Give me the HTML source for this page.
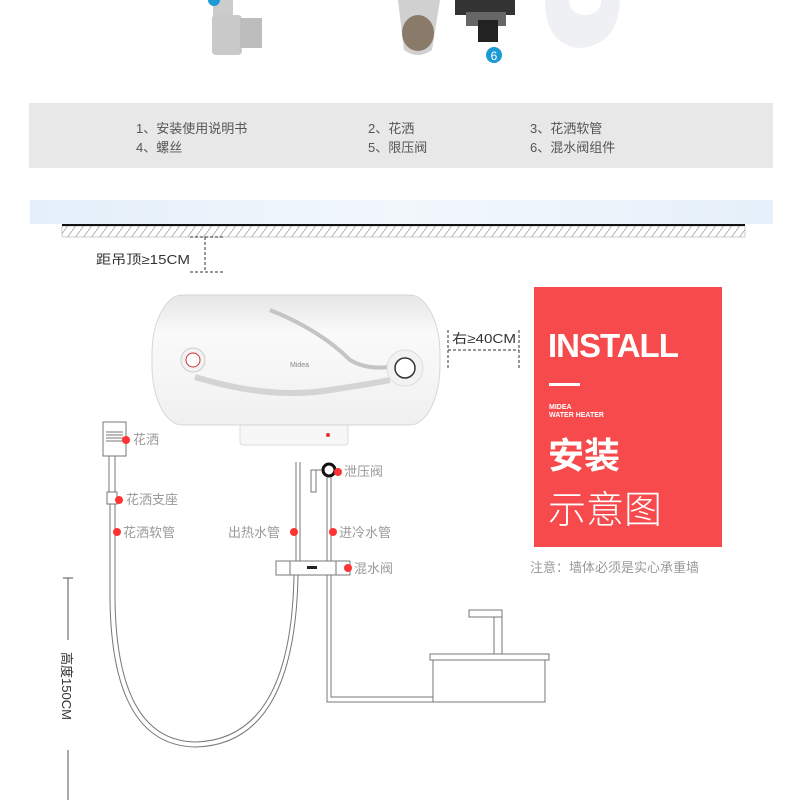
<!DOCTYPE html>
<html><head><meta charset="utf-8"><style>
body{margin:0;background:#fff;}
svg{display:block;}
text{font-family:"Liberation Sans","Noto Sans CJK SC",sans-serif;}
</style></head><body>
<svg width="800" height="800" viewBox="0 0 800 800" xmlns="http://www.w3.org/2000/svg">
<defs>
<linearGradient id="sky" x1="0" x2="1"><stop offset="0" stop-color="#e4effa"/><stop offset="0.5" stop-color="#f2f7fc"/><stop offset="1" stop-color="#e6f0fa"/></linearGradient>
<linearGradient id="tank" x1="0" y1="0" x2="0" y2="1"><stop offset="0" stop-color="#e6e6e6"/><stop offset="0.3" stop-color="#fafafa"/><stop offset="1" stop-color="#f0f0f0"/></linearGradient>
<pattern id="hatch" width="8" height="11" patternUnits="userSpaceOnUse"><path d="M0 11 L8 0" stroke="#999" stroke-width="0.7"/></pattern>
</defs>
<g>
<rect x="213" y="0" width="20" height="20" fill="#ccc"/>
<rect x="212" y="15" width="30" height="40" rx="4" fill="#c9c9c9"/>
<rect x="240" y="18" width="22" height="30" fill="#bdbdbd"/>
<circle cx="214" cy="0" r="6" fill="#1b9ad6"/>
<path d="M398 0 L440 0 L432 50 Q418 60 404 50 Z" fill="#d0d0d0"/>
<ellipse cx="418" cy="33" rx="16" ry="18" fill="#8a7a6a"/>
<rect x="455" y="0" width="60" height="15" fill="#333"/>
<rect x="466" y="12" width="40" height="14" fill="#666"/>
<rect x="478" y="20" width="20" height="22" fill="#222"/>
<circle cx="494" cy="55" r="8" fill="#1b9ad6"/>
<text x="494" y="60" font-size="12" fill="#fff" text-anchor="middle">6</text>
<path d="M545 0 L620 0 Q618 45 580 48 Q545 45 545 0 Z" fill="#eef0f3"/>
<ellipse cx="585" cy="2" rx="16" ry="13" fill="#fff"/>
</g>
<rect x="29" y="103" width="744" height="65" fill="#e8e8e8"/>
<g font-size="13" fill="#555">
<text x="136" y="133">1、安装使用说明书</text>
<text x="136" y="152">4、螺丝</text>
<text x="368" y="133">2、花洒</text>
<text x="368" y="152">5、限压阀</text>
<text x="530" y="133">3、花洒软管</text>
<text x="530" y="152">6、混水阀组件</text>
</g>
<rect x="30" y="200" width="743" height="24" fill="url(#sky)"/>
<rect x="62" y="226" width="683" height="11" fill="url(#hatch)" stroke="#aaa" stroke-width="0.6"/>
<line x1="62" y1="225" x2="745" y2="225" stroke="#111" stroke-width="2"/>
<g stroke="#333" stroke-width="1" stroke-dasharray="3,2" fill="none">
<line x1="205" y1="237" x2="205" y2="272"/>
<line x1="190" y1="237" x2="225" y2="237"/>
<line x1="190" y1="272" x2="225" y2="272"/>
</g>
<text x="96" y="264" font-size="13" fill="#333" textLength="94" lengthAdjust="spacingAndGlyphs">距吊顶≥15CM</text>
<rect x="240" y="423" width="108" height="22" rx="3" fill="#f7f7f7" stroke="#ddd"/>
<circle cx="328" cy="435" r="2" fill="#d33"/>
<rect x="152" y="295" width="288" height="130" rx="30" ry="60" fill="url(#tank)" stroke="#d6d6d6"/>
<path d="M270 310 Q320 330 350 360 Q370 372 400 365" stroke="#c4c4c4" stroke-width="4" fill="none"/>
<path d="M195 377 Q270 400 330 390 Q370 384 390 380" stroke="#d4d4d4" stroke-width="6" fill="none"/>
<circle cx="193" cy="360" r="12" fill="#f3f3f3" stroke="#ccc"/>
<circle cx="193" cy="360" r="7" fill="#fff" stroke="#c33" stroke-width="1"/>
<text x="290" y="367" font-size="7" fill="#888">Midea</text>
<circle cx="405" cy="368" r="18" fill="#f2f2f2" stroke="#ddd"/>
<circle cx="405" cy="368" r="10" fill="#fff" stroke="#333" stroke-width="1.5"/>
<g stroke="#333" stroke-width="1" stroke-dasharray="3,2" fill="none">
<line x1="448" y1="330" x2="448" y2="368"/>
<line x1="519" y1="330" x2="519" y2="368"/>
<line x1="448" y1="350" x2="519" y2="350"/>
</g>
<text x="452" y="343" font-size="13" fill="#333" textLength="64" lengthAdjust="spacingAndGlyphs">右≥40CM</text>
<rect x="534" y="287" width="188" height="260" fill="#f64a4c"/>
<text x="548" y="357" font-size="33" font-weight="bold" fill="#fff" letter-spacing="-1">INSTALL</text>
<rect x="549" y="383" width="31" height="3" fill="#fff"/>
<text x="549" y="409" font-size="7" font-weight="bold" fill="#fff">MIDEA</text>
<text x="549" y="417" font-size="7" font-weight="bold" fill="#fff">WATER HEATER</text>
<text x="548" y="468" font-size="36" font-weight="bold" fill="#fff">安装</text>
<text x="548" y="523" font-size="38" font-weight="200" fill="#fff">示意图</text>
<text x="530" y="572" font-size="13" fill="#999">注意：墙体必须是实心承重墙</text>
<g stroke="#777" stroke-width="1" fill="none">
<rect x="103" y="422" width="23" height="34" fill="#fff"/>
<line x1="106" y1="432" x2="123" y2="432"/><line x1="106" y1="435" x2="123" y2="435"/><line x1="106" y1="438" x2="123" y2="438"/><line x1="106" y1="441" x2="123" y2="441"/>
<line x1="109" y1="456" x2="109" y2="492"/><line x1="115" y1="456" x2="115" y2="492"/>
<rect x="107" y="492" width="10" height="12" fill="#fff"/>
<path d="M110 504 L110 600 Q112 745 195 747 Q295 745 298 575"/>
<path d="M115 504 L115 600 Q117 740 195 742 Q291 740 294 575"/>
<line x1="296" y1="462" x2="296" y2="562"/><line x1="300" y1="462" x2="300" y2="562"/>
<line x1="327" y1="470" x2="327" y2="562"/><line x1="331" y1="470" x2="331" y2="562"/>
<rect x="311" y="470" width="5" height="22"/><line x1="311" y1="470" x2="325" y2="470"/>
<rect x="276" y="561" width="74" height="14" fill="#fff"/>
<rect x="290" y="561" width="46" height="14" fill="#fff"/>
<path d="M327 575 L327 702 L433 702"/><path d="M331 575 L331 697 L433 697"/>
<rect x="433" y="660" width="112" height="42" fill="#fff"/>
<rect x="430" y="654" width="119" height="6" fill="#fff"/>
<rect x="494" y="612" width="8" height="42" fill="#fff"/>
<rect x="469" y="610" width="33" height="7" fill="#fff"/>
</g>
<circle cx="329" cy="470" r="6" fill="#fff" stroke="#111" stroke-width="3"/>
<rect x="307" y="566" width="10" height="3" fill="#222"/>
<g fill="#f33">
<circle cx="126" cy="440" r="4"/><circle cx="119" cy="500" r="4"/><circle cx="117" cy="532" r="4"/>
<circle cx="338" cy="472" r="4"/><circle cx="294" cy="532" r="4"/><circle cx="333" cy="532" r="4"/><circle cx="348" cy="568" r="4"/>
</g>
<g font-size="13" fill="#999">
<text x="133" y="444">花洒</text><text x="126" y="504">花洒支座</text><text x="123" y="537">花洒软管</text>
<text x="344" y="476">泄压阀</text><text x="228" y="537">出热水管</text><text x="339" y="537">进冷水管</text><text x="354" y="573">混水阀</text>
</g>
<g stroke="#555" stroke-width="1">
<line x1="63" y1="578" x2="73" y2="578"/>
<line x1="68" y1="578" x2="68" y2="640"/>
<line x1="68" y1="750" x2="68" y2="800"/>
</g>
<text transform="translate(62,652) rotate(90)" font-size="13" fill="#333">高度150CM</text>
</svg>
</body></html>
